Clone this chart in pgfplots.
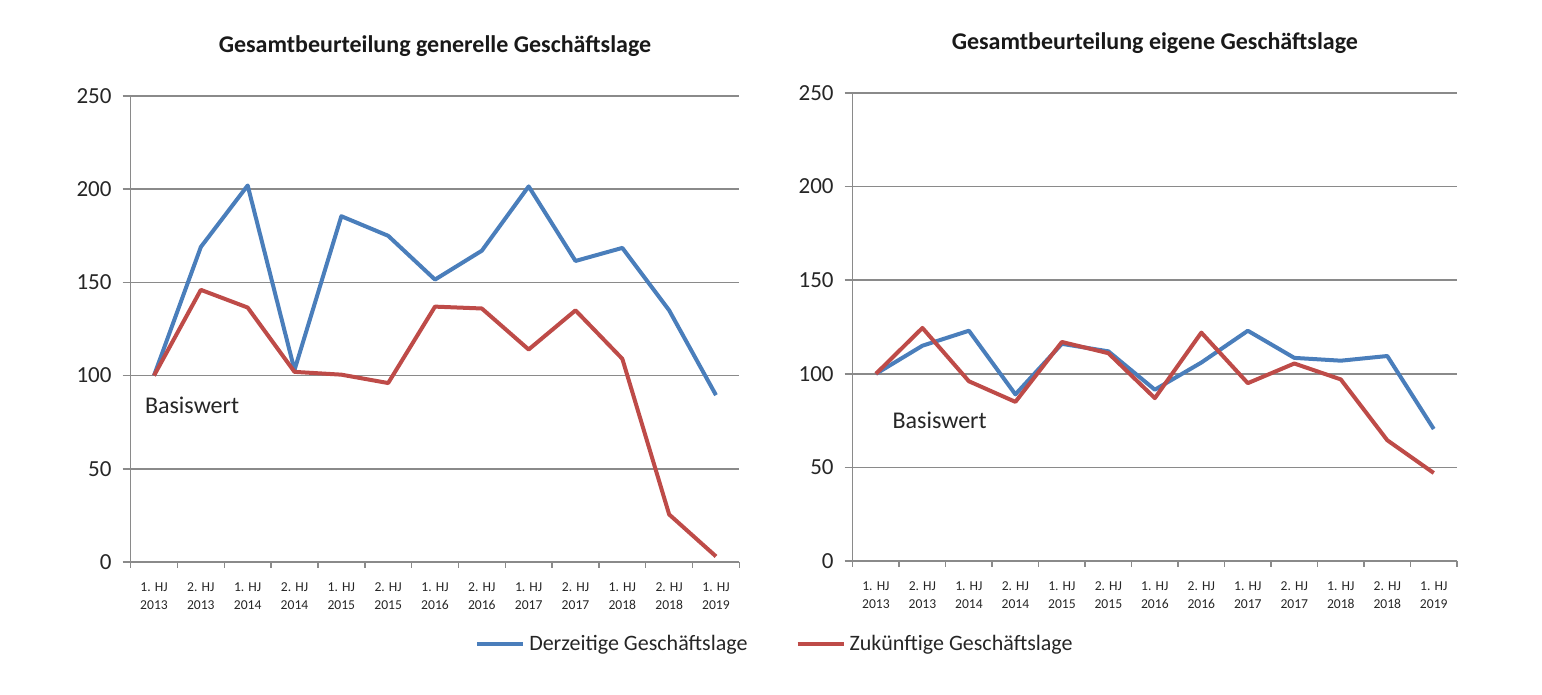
\documentclass[border=0pt]{standalone}
\usepackage{pgfplots}
\pgfplotsset{compat=1.18}
\usepackage{fontspec}
\setmainfont{Carlito}
\definecolor{sblue}{HTML}{4A7EBB}
\definecolor{sred}{HTML}{BE4B48}
\definecolor{gridgray}{HTML}{8A8A8A}
\pgfplotstableread{
x gen_d gen_z eig_d eig_z
0 100 100 100 100
1 169 146 115 124.5
2 202 136.5 123 96
3 103 102 89 85
4 185.5 100.5 116 117
5 175 96 112 111
6 151.5 137 91.5 87
7 167 136 106 122
8 201.5 114 123 95
9 161.5 135 108.5 105.5
10 168.5 109 107 97
11 135 25.5 109.5 64.5
12 89.5 3 70.5 47
}\data
\pgfplotsset{
  chart/.style={
    scale only axis,
    axis x line*=bottom, axis y line*=left,
    axis line style={gridgray, line width=0.75pt, -},
    xmin=-0.5, xmax=12.5, ymin=0, ymax=250,
    ytick={0,50,...,250},
    xtick={0,...,12},
    xticklabels={{1. HJ\\2013},{2. HJ\\2013},{1. HJ\\2014},{2. HJ\\2014},{1. HJ\\2015},{2. HJ\\2015},{1. HJ\\2016},{2. HJ\\2016},{1. HJ\\2017},{2. HJ\\2017},{1. HJ\\2018},{2. HJ\\2018},{1. HJ\\2019}},
    x tick label style={font=\fontsize{6.8}{8.8}\selectfont, align=center, text=black!85, yshift=-3pt},
    y tick label style={font=\fontsize{11.5}{13}\selectfont, text=black!85, xshift=-2pt},
    /pgf/number format/assume math mode=true,
    major x tick style={draw=none},
    minor xtick={-0.5,0.5,...,12.5},
    minor x tick style={gridgray, line width=0.75pt},
    major y tick style={gridgray, line width=0.75pt},
    tick align=outside,
    major tick length=4pt, minor tick length=3pt,
    ymajorgrids,
    grid style={gridgray, line width=0.8pt},
    title style={font=\bfseries\fontsize{12}{14}\selectfont, text=black!90, yshift=10pt},
    every axis plot/.append style={line width=2pt, line join=round, no markers},
  }
}
\begin{document}
\begin{tikzpicture}
\path[use as bounding box] (0,0) rectangle (771pt,347.5pt);
\begin{axis}[chart, at={(65.3pt,66.5pt)}, anchor=south west,
  width=304.4pt, height=233pt,
  title={Gesamtbeurteilung generelle Geschäftslage},
  legend columns=2,
  legend style={at={(1.060,-0.176)}, anchor=center, draw=none, fill=none,
    font=\fontsize{11}{13}\selectfont, text=black!85,
    /tikz/every even column/.append style={column sep=22pt}},
  legend image code/.code={\draw[#1, line width=2pt] (0pt,0pt) -- (23pt,0pt);},
  clip=false]
\addplot[sblue] table[x=x, y=gen_d] {\data};
\addlegendentry{Derzeitige Geschäftslage}
\addplot[sred] table[x=x, y=gen_z] {\data};
\addlegendentry{Zukünftige Geschäftslage}
\node[anchor=west, font=\fontsize{12}{14}\selectfont, text=black!85, inner sep=0pt] at (axis cs:-0.2,84) {Basiswert};
\end{axis}
\begin{axis}[chart, at={(426.35pt,67pt)}, anchor=south west,
  width=302.15pt, height=234pt,
  title={Gesamtbeurteilung eigene Geschäftslage}, clip=false]
\addplot[sblue] table[x=x, y=eig_d] {\data};
\addplot[sred] table[x=x, y=eig_z] {\data};
\node[anchor=west, font=\fontsize{12}{14}\selectfont, text=black!85, inner sep=0pt] at (axis cs:0.35,75) {Basiswert};
\end{axis}
\end{tikzpicture}
\end{document}
